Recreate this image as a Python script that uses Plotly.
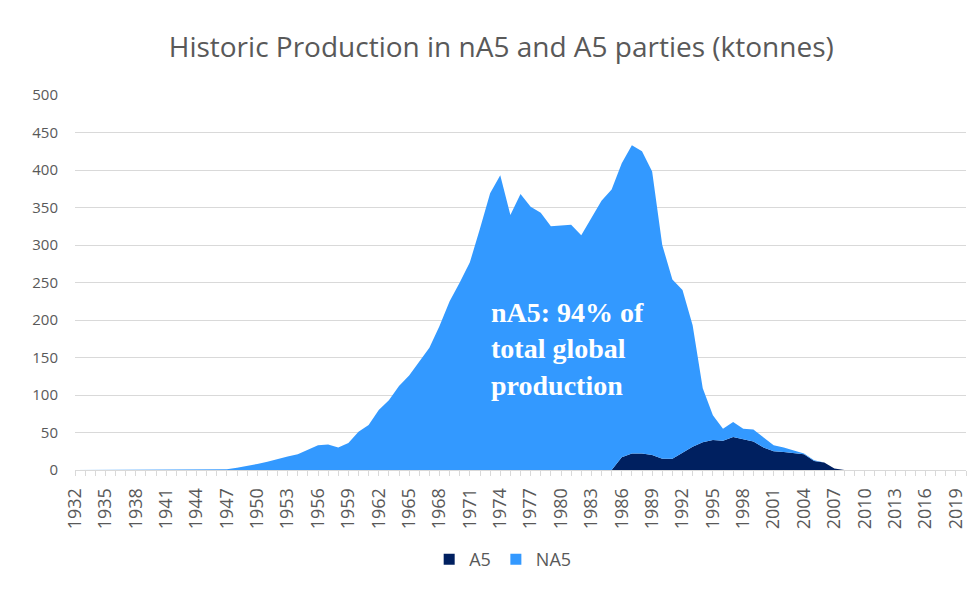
import plotly.graph_objects as go

years = list(range(1932, 2021))

# Total production (top of stacked area), ktonnes
total_vals = {
    1947: 1, 1948: 3, 1949: 5, 1950: 8, 1951: 11, 1952: 15, 1953: 18, 1954: 21,
    1955: 27, 1956: 33, 1957: 34, 1958: 30, 1959: 36, 1960: 51, 1961: 60, 1962: 80,
    1963: 93, 1964: 112, 1965: 126, 1966: 144, 1967: 163, 1968: 192, 1969: 225,
    1970: 250, 1971: 277, 1972: 322, 1973: 369, 1974: 393, 1975: 340, 1976: 368,
    1977: 351, 1978: 343, 1979: 325, 1980: 326, 1981: 327, 1982: 313, 1983: 336,
    1984: 359, 1985: 374,
}

a5_vals = {
    1985: 0, 1986: 17, 1987: 22, 1988: 22, 1989: 20, 1990: 15, 1991: 15, 1992: 23,
    1993: 31, 1994: 37, 1995: 40, 1996: 39, 1997: 44, 1998: 41, 1999: 38, 2000: 30,
    2001: 25, 2002: 24, 2003: 23, 2004: 21, 2005: 12, 2006: 10, 2007: 2,
}

na5_late = {
    1986: 392, 1987: 411, 1988: 403, 1989: 378, 1990: 285, 1991: 239, 1992: 217,
    1993: 162, 1994: 72, 1995: 33, 1996: 16, 1997: 20, 1998: 14, 1999: 16, 2000: 13,
    2001: 8, 2002: 6, 2003: 3, 2004: 1, 2005: 1, 2006: 0, 2007: 0,
}

A5 = [a5_vals.get(y, 0) for y in years]
NA5 = [total_vals.get(y, na5_late.get(y, 0)) for y in years]

series_names = ["A5", "NA5"]
series_colors = ["#002060", "#3399FF"]

tick_years = list(range(1932, 2021, 3))
tick_text = [str(y) for y in tick_years]

grey = "#595959"
light = "#D9D9D9"

fig = go.Figure()
for name, vals, col in zip(series_names, [A5, NA5], series_colors):
    fig.add_trace(go.Scatter(
        x=years, y=vals, name=name, mode="lines", stackgroup="one",
        line=dict(width=0, color=col), fillcolor=col, showlegend=False,
    ))
# legend entries with square swatches
for name, col in zip(series_names, series_colors):
    fig.add_trace(go.Scatter(
        x=[None], y=[None], name=name, mode="markers",
        marker=dict(symbol="square", size=11, color=col), showlegend=True,
    ))

fig.update_layout(
    width=971, height=582,
    margin=dict(l=67, r=13, t=87, b=118),
    paper_bgcolor="white", plot_bgcolor="white",
    font=dict(family="Open Sans, Lato, sans-serif", color=grey),
    title=dict(
        text="Historic Production in nA5 and A5 parties (ktonnes)",
        x=0.508, xanchor="center", y=0.932, yanchor="middle",
        font=dict(size=28, color=grey, family="Open Sans, sans-serif"),
    ),
    showlegend=True,
    legend=dict(
        orientation="h", x=0.48, xanchor="center", y=-0.239, yanchor="middle",
        font=dict(size=18, color=grey), itemwidth=30, traceorder="normal",
    ),
    xaxis=dict(
        range=[1932, 2020], tickmode="array", tickvals=tick_years, ticktext=tick_text,
        tickangle=-90, tickfont=dict(size=18, color=grey),
        showgrid=False, zeroline=False,
        showline=True, linecolor=light, linewidth=1,
        ticks="outside", ticklen=5, tickcolor=light,
        ticklabelstandoff=5,
        minor=dict(dtick=1, tick0=1932, ticks="outside", ticklen=5, tickcolor=light, showgrid=False),
    ),
    yaxis=dict(
        range=[0, 500], dtick=50, tick0=0,
        tickfont=dict(size=15, color=grey),
        showgrid=True, gridcolor=light, gridwidth=1,
        zeroline=False, showline=False, ticks="",
        ticklabelstandoff=16,
    ),
    annotations=[dict(
        text="<b>nA5: 94% of<br>total global<br>production</b>",
        xref="paper", yref="paper", x=0.465, y=0.322,
        xanchor="left", yanchor="middle", align="left", showarrow=False,
        font=dict(family="Liberation Serif, Times New Roman, serif", size=28, color="white"),
    )],
)

fig.write_html("out.html")
